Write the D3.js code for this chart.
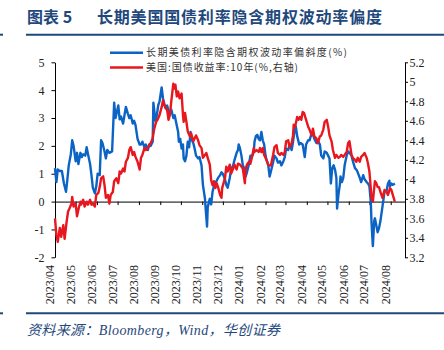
<!DOCTYPE html>
<html>
<head>
<meta charset="utf-8">
<script src="https://cdn.jsdelivr.net/npm/d3@7"></script>
<style>
  body { margin: 0; background: #fff; }
  svg { display: block; }
</style>
</head>
<body>
<div id="chart"></div>
<script>
// chart texts
const titleLead = "图表 5";
const titleMain = "长期美国国债利率隐含期权波动率偏度";
const seriesNames = ["长期美债利率隐含期权波动率偏斜度(%)", "美国:国债收益率:10年(%,右轴)"];
const sourceText = "资料来源：Bloomberg，Wind，华创证券";

// axis ticks
const monthTicks = ["2023/04","2023/05","2023/06","2023/07","2023/08","2023/09","2023/10","2023/11","2023/12",
  "2024/01","2024/02","2024/03","2024/04","2024/05","2024/06","2024/07","2024/08"];
const leftTicks = [-2, -1, 0, 1, 2, 3, 4, 5];
const rightTicks = [3.2, 3.4, 3.6, 3.8, 4, 4.2, 4.4, 4.6, 4.8, 5, 5.2];

// skew (%), left axis
const skewData = [
  ["2023-04-01",1.2],["2023-04-03",0.7],["2023-04-05",1.15],["2023-04-08",1.1],["2023-04-11",1.1],["2023-04-14",0.65],
  ["2023-04-17",0.35],["2023-04-19",0.8],["2023-04-21",1.3],["2023-04-24",1.7],["2023-04-26",2.2],["2023-04-28",2.0],
  ["2023-05-01",1.45],["2023-05-03",1.75],["2023-05-05",1.35],["2023-05-08",1.75],["2023-05-10",1.6],["2023-05-12",1.7],
  ["2023-05-15",1.65],["2023-05-17",1.95],["2023-05-19",1.7],["2023-05-22",1.35],["2023-05-24",0.95],["2023-05-26",0.5],
  ["2023-05-29",0.3],["2023-05-31",0.55],["2023-06-02",1.0],["2023-06-05",0.95],["2023-06-07",2.2],["2023-06-09",2.1],
  ["2023-06-12",1.8],["2023-06-14",1.55],["2023-06-16",1.85],["2023-06-19",1.75],["2023-06-23",1.8],["2023-06-26",3.55],
  ["2023-06-28",3.0],["2023-07-02",3.45],["2023-07-04",2.95],["2023-07-06",3.05],["2023-07-09",2.8],["2023-07-11",3.1],
  ["2023-07-13",3.4],["2023-07-16",3.15],["2023-07-18",3.0],["2023-07-20",3.1],["2023-07-23",2.8],["2023-07-25",2.9],
  ["2023-07-27",2.75],["2023-07-30",2.25],["2023-08-02",2.05],["2023-08-04",2.05],["2023-08-06",2.15],["2023-08-09",1.95],
  ["2023-08-11",2.05],["2023-08-14",1.85],["2023-08-16",2.05],["2023-08-18",2.0],["2023-08-21",2.15],["2023-08-22",3.55],
  ["2023-08-25",2.9],["2023-08-27",3.1],["2023-08-29",3.45],["2023-08-31",3.6],["2023-09-03",4.1],["2023-09-05",3.7],
  ["2023-09-07",3.5],["2023-09-09",3.35],["2023-09-11",3.45],["2023-09-14",3.15],["2023-09-17",3.3],["2023-09-20",3.0],
  ["2023-09-22",3.1],["2023-09-24",2.85],["2023-09-27",2.5],["2023-09-28",2.15],["2023-09-30",2.25],["2023-10-02",1.9],
  ["2023-10-04",2.05],["2023-10-05",1.55],["2023-10-07",1.45],["2023-10-09",1.65],["2023-10-11",2.15],["2023-10-13",1.95],
  ["2023-10-15",2.5],["2023-10-16",2.25],["2023-10-19",2.1],["2023-10-21",1.9],["2023-10-23",1.65],["2023-10-26",1.55],
  ["2023-10-28",1.6],["2023-10-31",1.3],["2023-11-02",0.6],["2023-11-05",0.1],["2023-11-06",-0.25],["2023-11-08",-0.9],
  ["2023-11-09",-0.2],["2023-11-12",0.1],["2023-11-14",-0.1],["2023-11-16",0.35],["2023-11-18",0.55],["2023-11-21",0.7],
  ["2023-11-24",0.85],["2023-11-27",0.95],["2023-11-29",1.05],["2023-12-01",1.0],["2023-12-04",0.8],["2023-12-06",0.6],
  ["2023-12-08",0.5],["2023-12-11",0.85],["2023-12-13",1.15],["2023-12-16",1.3],["2023-12-18",1.5],["2023-12-21",1.75],
  ["2023-12-23",1.85],["2023-12-24",2.05],["2023-12-26",1.9],["2023-12-28",1.65],["2023-12-30",1.3],["2024-01-02",1.15],
  ["2024-01-03",0.9],["2024-01-05",1.05],["2024-01-08",1.35],["2024-01-10",1.65],["2024-01-13",1.65],["2024-01-15",1.8],
  ["2024-01-16",2.15],["2024-01-18",2.35],["2024-01-20",2.4],["2024-01-22",2.25],["2024-01-24",2.2],["2024-01-26",2.5],
  ["2024-01-28",2.2],["2024-01-30",2.05],["2024-02-01",1.65],["2024-02-02",1.55],["2024-02-05",1.3],["2024-02-07",0.9],
  ["2024-02-09",1.1],["2024-02-12",1.4],["2024-02-14",1.65],["2024-02-17",1.55],["2024-02-19",1.4],["2024-02-22",1.45],
  ["2024-02-24",1.3],["2024-02-27",1.45],["2024-02-29",1.6],["2024-03-02",1.9],["2024-03-05",1.85],["2024-03-07",2.05],
  ["2024-03-10",1.85],["2024-03-12",2.15],["2024-03-14",2.5],["2024-03-16",2.7],["2024-03-18",2.35],["2024-03-21",2.05],
  ["2024-03-23",2.1],["2024-03-26",2.05],["2024-03-27",1.9],["2024-03-29",1.6],["2024-03-31",2.05],["2024-04-03",2.2],
  ["2024-04-05",2.2],["2024-04-08",2.45],["2024-04-10",2.4],["2024-04-12",2.25],["2024-04-15",2.1],["2024-04-17",2.2],
  ["2024-04-20",2.05],["2024-04-22",1.65],["2024-04-25",1.55],["2024-04-27",1.8],["2024-04-30",1.75],["2024-05-02",1.65],
  ["2024-05-04",1.55],["2024-05-06",0.65],["2024-05-08",1.2],["2024-05-10",1.3],["2024-05-12",1.15],["2024-05-14",0.85],
  ["2024-05-15",-0.25],["2024-05-17",0.25],["2024-05-19",0.6],["2024-05-20",0.9],["2024-05-22",0.7],["2024-05-24",0.85],
  ["2024-05-26",1.3],["2024-05-29",1.65],["2024-05-31",1.8],["2024-06-02",1.75],["2024-06-05",1.65],["2024-06-07",1.45],
  ["2024-06-10",1.2],["2024-06-12",1.15],["2024-06-14",1.05],["2024-06-17",0.85],["2024-06-19",0.7],["2024-06-22",0.95],
  ["2024-06-24",0.8],["2024-06-27",0.7],["2024-06-29",0.65],["2024-07-01",0.55],["2024-07-03",0.0],["2024-07-04",-0.7],
  ["2024-07-06",-1.6],["2024-07-08",-0.7],["2024-07-09",-0.6],["2024-07-11",-0.85],["2024-07-13",-1.1],["2024-07-15",-0.95],
  ["2024-07-17",-0.7],["2024-07-19",-0.35],["2024-07-21",0.0],["2024-07-23",0.35],["2024-07-26",0.4],["2024-07-28",0.65],
  ["2024-07-30",0.75],["2024-07-31",0.55],["2024-08-02",0.65],["2024-08-04",0.6],["2024-08-07",0.65]
];

// US 10y yield (%), right axis
const yieldData = [
  ["2023-04-01",3.60],["2023-04-03",3.43],["2023-04-05",3.36],["2023-04-08",3.50],["2023-04-10",3.41],["2023-04-13",3.53],
  ["2023-04-15",3.39],["2023-04-18",3.57],["2023-04-20",3.67],["2023-04-22",3.70],["2023-04-25",3.75],["2023-04-26",3.82],
  ["2023-04-28",3.72],["2023-05-01",3.75],["2023-05-03",3.62],["2023-05-06",3.72],["2023-05-08",3.77],["2023-05-09",3.74],
  ["2023-05-12",3.79],["2023-05-14",3.72],["2023-05-17",3.77],["2023-05-19",3.74],["2023-05-22",3.79],["2023-05-24",3.74],
  ["2023-05-26",3.75],["2023-05-29",3.72],["2023-05-31",3.84],["2023-06-03",3.86],["2023-06-05",3.92],["2023-06-07",4.01],
  ["2023-06-10",4.03],["2023-06-12",3.94],["2023-06-14",3.81],["2023-06-17",3.84],["2023-06-19",3.75],["2023-06-21",3.84],
  ["2023-06-24",3.87],["2023-06-26",3.98],["2023-06-29",4.01],["2023-07-02",3.96],["2023-07-04",4.08],["2023-07-06",4.06],
  ["2023-07-09",4.11],["2023-07-11",4.08],["2023-07-13",4.18],["2023-07-16",4.22],["2023-07-18",4.30],["2023-07-20",4.33],
  ["2023-07-23",4.25],["2023-07-25",4.28],["2023-07-27",4.23],["2023-07-30",4.18],["2023-08-02",4.10],["2023-08-04",4.22],
  ["2023-08-06",4.25],["2023-08-09",4.32],["2023-08-11",4.30],["2023-08-14",4.32],["2023-08-16",4.35],["2023-08-18",4.37],
  ["2023-08-21",4.42],["2023-08-23",4.51],["2023-08-26",4.59],["2023-08-28",4.61],["2023-08-31",4.66],["2023-09-03",4.74],
  ["2023-09-05",4.81],["2023-09-07",4.76],["2023-09-09",4.73],["2023-09-11",4.71],["2023-09-13",4.61],["2023-09-15",4.66],
  ["2023-09-17",4.80],["2023-09-20",4.98],["2023-09-22",4.93],["2023-09-23",4.97],["2023-09-25",4.85],["2023-09-27",4.90],
  ["2023-09-29",4.83],["2023-10-02",4.88],["2023-10-04",4.66],["2023-10-05",4.59],["2023-10-07",4.68],["2023-10-09",4.59],
  ["2023-10-11",4.49],["2023-10-14",4.44],["2023-10-16",4.47],["2023-10-19",4.39],["2023-10-21",4.42],["2023-10-23",4.45],
  ["2023-10-26",4.40],["2023-10-28",4.35],["2023-10-31",4.32],["2023-11-02",4.22],["2023-11-05",4.25],["2023-11-07",4.27],
  ["2023-11-09",4.22],["2023-11-12",4.15],["2023-11-14",3.99],["2023-11-16",3.94],["2023-11-18",3.98],["2023-11-20",3.91],
  ["2023-11-22",3.96],["2023-11-24",3.92],["2023-11-27",3.84],["2023-11-29",3.81],["2023-11-30",3.91],["2023-12-02",3.96],
  ["2023-12-04",4.01],["2023-12-06",4.13],["2023-12-08",4.08],["2023-12-11",4.15],["2023-12-13",4.06],["2023-12-16",4.11],
  ["2023-12-18",4.15],["2023-12-21",4.10],["2023-12-23",4.16],["2023-12-26",4.15],["2023-12-28",4.13],["2023-12-30",4.11],
  ["2024-01-02",3.96],["2024-01-03",4.10],["2024-01-05",4.15],["2024-01-08",4.18],["2024-01-10",4.16],["2024-01-13",4.25],
  ["2024-01-15",4.32],["2024-01-16",4.28],["2024-01-19",4.30],["2024-01-22",4.28],["2024-01-24",4.32],["2024-01-26",4.28],
  ["2024-01-28",4.32],["2024-01-30",4.25],["2024-02-01",4.22],["2024-02-05",4.15],["2024-02-07",4.14],["2024-02-09",4.15],
  ["2024-02-12",4.25],["2024-02-14",4.33],["2024-02-17",4.35],["2024-02-19",4.27],["2024-02-22",4.25],["2024-02-24",4.27],
  ["2024-02-27",4.25],["2024-02-29",4.28],["2024-03-02",4.39],["2024-03-05",4.40],["2024-03-07",4.33],["2024-03-10",4.37],
  ["2024-03-12",4.45],["2024-03-13",4.56],["2024-03-15",4.54],["2024-03-18",4.64],["2024-03-20",4.61],["2024-03-22",4.64],
  ["2024-03-24",4.61],["2024-03-26",4.69],["2024-03-28",4.68],["2024-03-31",4.61],["2024-04-03",4.54],["2024-04-05",4.51],
  ["2024-04-08",4.45],["2024-04-10",4.52],["2024-04-12",4.44],["2024-04-15",4.42],["2024-04-17",4.37],["2024-04-20",4.44],
  ["2024-04-22",4.45],["2024-04-25",4.51],["2024-04-27",4.59],["2024-04-30",4.61],["2024-05-02",4.54],["2024-05-04",4.45],
  ["2024-05-07",4.39],["2024-05-09",4.30],["2024-05-12",4.22],["2024-05-14",4.25],["2024-05-17",4.22],["2024-05-19",4.23],
  ["2024-05-21",4.25],["2024-05-24",4.23],["2024-05-26",4.25],["2024-05-29",4.28],["2024-05-31",4.37],["2024-06-02",4.39],
  ["2024-06-05",4.25],["2024-06-07",4.22],["2024-06-10",4.20],["2024-06-12",4.18],["2024-06-14",4.22],["2024-06-17",4.18],
  ["2024-06-19",4.23],["2024-06-22",4.25],["2024-06-24",4.27],["2024-06-27",4.22],["2024-06-29",4.16],["2024-07-01",4.08],
  ["2024-07-03",3.91],["2024-07-04",3.81],["2024-07-06",3.77],["2024-07-09",3.98],["2024-07-11",3.96],["2024-07-13",3.92],
  ["2024-07-15",3.92],["2024-07-17",3.87],["2024-07-20",3.81],["2024-07-23",3.89],["2024-07-26",3.87],["2024-07-28",3.84],
  ["2024-07-31",3.91],["2024-08-02",3.89],["2024-08-04",3.84],["2024-08-07",3.77]
];

const W = 444, H = 350;
const margin = {top: 62.3, right: 39, bottom: 92.7, left: 55},
    width = W - margin.left - margin.right,
    height = H - margin.top - margin.bottom;

const navy = "#1f497d", blue = "#0b63c5", red = "#e8161e";
const serif = "'Liberation Serif', 'Times New Roman', serif";
const cjk = "'Noto Sans CJK SC', sans-serif";

const svg = d3.select("#chart").append("svg")
    .attr("width", W)
    .attr("height", H);

// title + rules
svg.append("text")
  .attr("x", 27).attr("y", 22.5)
  .attr("font-family", cjk).attr("font-size", 16).attr("font-weight", "bold")
  .attr("fill", navy)
  .text(titleLead);
svg.append("text")
  .attr("x", 97).attr("y", 22.5)
  .attr("font-family", cjk).attr("font-size", 16).attr("font-weight", "bold")
  .attr("fill", navy)
  .attr("textLength", 285).attr("lengthAdjust", "spacing")
  .text(titleMain);

[34.7, 313.3].forEach(yy => {
  svg.append("line").attr("x1", 26).attr("x2", W).attr("y1", yy).attr("y2", yy)
    .attr("stroke", navy).attr("stroke-width", 2);
  svg.append("line").attr("x1", 0).attr("x2", 3).attr("y1", yy).attr("y2", yy)
    .attr("stroke", navy).attr("stroke-width", 2);
});

svg.append("text")
  .attr("x", 27).attr("y", 335)
  .attr("font-family", serif + ", 'Noto Sans CJK SC'").attr("font-size", 14)
  .attr("font-style", "italic")
  .attr("fill", navy)
  .attr("textLength", 253).attr("lengthAdjust", "spacing")
  .text(sourceText);

const g = svg.append("g")
    .attr("transform", `translate(${margin.left},${margin.top})`);

const parseDay = d3.timeParse("%Y-%m-%d");
const parseMonth = d3.timeParse("%Y/%m");

const x = d3.scaleTime()
  .domain([new Date(2023, 3, 1), new Date(2024, 7, 21, 18)])
  .range([0, width]);
const yL = d3.scaleLinear().domain([-2, 5]).range([height, 0]);
const yR = d3.scaleLinear().domain([3.2, 5.2]).range([height, 0]);

// left axis
const axL = g.append("g")
  .call(d3.axisLeft(yL).tickValues(leftTicks).tickSize(3.5).tickSizeOuter(0).tickPadding(7)
    .tickFormat(d => String(d)));
// right axis
const axR = g.append("g")
  .attr("transform", `translate(${width},0)`)
  .call(d3.axisRight(yR).tickValues(rightTicks).tickSize(3).tickSizeOuter(0).tickPadding(1.5)
    .tickFormat(d => String(d)));
// x axis at zero line
const tickDates = monthTicks.map(parseMonth);
const axX = g.append("g")
  .attr("transform", `translate(0,${yL(0)})`)
  .call(d3.axisBottom(x).tickValues(tickDates).tickSize(3.5).tickSizeOuter(0).tickFormat(""));

[axL, axR, axX].forEach(a => {
  a.selectAll("path, line").attr("stroke", "#000");
  a.selectAll("text").attr("font-family", serif).attr("font-size", 12).attr("fill", "#222");
});

// rotated month labels at bottom
g.append("g").selectAll("text")
  .data(tickDates)
  .join("text")
    .attr("transform", (d, i) => `translate(${x(d) - 1},${265 - margin.top}) rotate(-90)`)
    .attr("text-anchor", "end")
    .attr("font-family", serif).attr("font-size", 12).attr("fill", "#222")
    .text((d, i) => monthTicks[i]);

// lines
const skewLine = d3.line()
  .x(d => x(parseDay(d[0])))
  .y(d => yL(d[1]));
const yieldLine = d3.line()
  .x(d => x(parseDay(d[0])))
  .y(d => yR(d[1]));

g.append("path")
  .datum(skewData)
  .attr("fill", "none")
  .attr("stroke", blue)
  .attr("stroke-width", 2.4)
  .attr("stroke-linejoin", "round")
  .attr("d", skewLine);

g.append("path")
  .datum(yieldData)
  .attr("fill", "none")
  .attr("stroke", red)
  .attr("stroke-width", 2.4)
  .attr("stroke-linejoin", "round")
  .attr("d", yieldLine);

// legend
const legend = svg.append("g");
[blue, red].forEach((c, i) => {
  const ly = 52.7 + i * 14.8;
  legend.append("line")
    .attr("x1", 110).attr("x2", 143).attr("y1", ly).attr("y2", ly)
    .attr("stroke", c).attr("stroke-width", 2.5);
  legend.append("text")
    .attr("x", 146).attr("y", ly + 3.6)
    .attr("font-family", cjk).attr("font-size", 10).attr("fill", "#333")
    .attr("textLength", i === 0 ? 201 : 152).attr("lengthAdjust", "spacing")
    .text(seriesNames[i]);
});
</script>
</body>
</html>
